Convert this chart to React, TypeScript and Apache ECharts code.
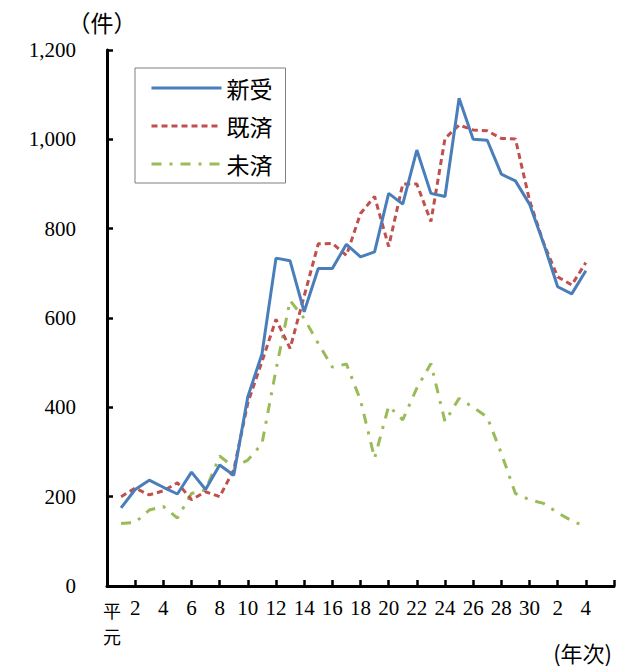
import React, { useEffect, useRef } from "react";
import * as echarts from "echarts";

// 年次: 平成元年〜令和4年
const years = [
  "平元", "2", "3", "4", "5", "6", "7", "8", "9", "10",
  "11", "12", "13", "14", "15", "16", "17", "18", "19", "20",
  "21", "22", "23", "24", "25", "26", "27", "28", "29", "30",
  "元", "2", "3", "4",
];

// 新受
const shinju = [
  175, 216, 237, 221, 206, 255, 216, 271, 248, 424,
  519, 734, 728, 614, 711, 711, 765, 737, 748, 879,
  855, 976, 879, 872, 1092, 1000, 998, 922, 907, 855,
  767, 670, 654, 706,
];

// 既済
const kisai = [
  200, 219, 204, 213, 231, 193, 211, 200, 260, 410,
  502, 597, 532, 649, 766, 767, 740, 834, 872, 760,
  900, 900, 816, 1002, 1032, 1021, 1019, 1002, 1001, 864,
  768, 692, 674, 724,
];

// 未済
const misai = [
  140, 142, 170, 178, 152, 207, 215, 291, 266, 282,
  318, 484, 639, 599, 543, 490, 497, 416, 286, 403,
  372, 443, 498, 368, 420, 400, 378, 297, 207, 193,
  185, 164, 146, 133,
];

const seriesNames = ["新受", "既済", "未済"];
const seriesColors = ["#4A7EBB", "#C0504D", "#9BBB59"];

const yMin = 0;
const yMax = 1200;
const yStep = 200;

const SERIF = "'Liberation Serif', 'Times New Roman', serif";
const CJK = "'Noto Sans CJK JP', sans-serif";

export default function App() {
  const ref = useRef<HTMLDivElement>(null);

  useEffect(() => {
    if (!ref.current) return;
    const chart = echarts.init(ref.current, undefined, { renderer: "svg" });

    // one empty slot before, two after (axis runs past the last year)
    const cats: any[] = [
      "",
      ...years.map((y, i) =>
        i === 0
          ? {
              value: "平\n元",
              textStyle: {
                align: "right",
                fontFamily: CJK,
                fontSize: 18,
                lineHeight: 26,
              },
            }
          : y
      ),
      " ",
      "  ",
    ];
    const pad = (arr: number[]) => [null, ...arr, null, null];

    const dashes: any[] = ["solid", [6, 4], [10, 8, 3, 8]];
    const datas = [shinju, kisai, misai];

    const series = seriesNames.map((name, i) => ({
      name,
      type: "line",
      data: pad(datas[i]),
      symbol: "none",
      smooth: false,
      lineStyle: { color: seriesColors[i], width: 3, type: dashes[i], cap: "butt" },
      itemStyle: { color: seriesColors[i] },
      z: 3 - i,
    }));

    const option: any = {
      animation: false,
      backgroundColor: "#fff",
      grid: {
        left: 107,
        right: 6,
        top: 50,
        bottom: 82,
        containLabel: false,
        outerBoundsMode: "none",
      },
      legend: {
        orient: "vertical",
        left: 135,
        top: 68,
        padding: [8, 13, 7, 15],
        itemGap: 14,
        itemWidth: 70,
        itemHeight: 20,
        borderColor: "#7f7f7f",
        borderWidth: 1,
        backgroundColor: "#fff",
        itemStyle: { opacity: 0, borderWidth: 0 },
        textStyle: { fontSize: 23, fontFamily: CJK, color: "#000", lineHeight: 24 },
        data: seriesNames.map((n, i) => ({
          name: n,
          itemStyle: { opacity: 0, borderWidth: 0 },
          lineStyle: { color: seriesColors[i], width: 3, type: dashes[i] },
        })),
      },
      xAxis: {
        type: "category",
        data: cats,
        boundaryGap: false,
        axisLine: { show: true, lineStyle: { color: "#000", width: 3 } },
        axisTick: {
          show: true,
          inside: true,
          length: 6,
          interval: 1,
          lineStyle: { color: "#000", width: 2.5 },
        },
        axisLabel: {
          interval: (idx: number) => idx === 1 || (idx % 2 === 0 && idx >= 2 && idx <= 34),
          showMinLabel: true,
          showMaxLabel: true,
          hideOverlap: false,
          margin: 11,
          color: "#000",
          fontFamily: SERIF,
          fontSize: 21,
        },
        splitLine: { show: false },
      },
      yAxis: {
        type: "value",
        min: yMin,
        max: yMax,
        interval: yStep,
        axisLine: { show: true, lineStyle: { color: "#000", width: 3 } },
        axisTick: { show: true, inside: true, length: 6, lineStyle: { color: "#000", width: 2.5 } },
        axisLabel: {
          margin: 31,
          color: "#000",
          fontFamily: SERIF,
          fontSize: 21,
          formatter: (v: number) => v.toLocaleString("en-US"),
        },
        splitLine: { show: false },
      },
      graphic: [
        {
          type: "text",
          x: 102,
          y: 22,
          style: {
            text: "（件）",
            font: `23px ${CJK}`,
            fill: "#000",
            textAlign: "center",
            textVerticalAlign: "middle",
          },
        },
        {
          type: "text",
          x: 612,
          y: 652,
          style: {
            text: "(年次)",
            font: `22px ${CJK}`,
            fill: "#000",
            textAlign: "right",
            textVerticalAlign: "middle",
          },
        },
      ],
      series,
    };

    chart.setOption(option);
    return () => chart.dispose();
  }, []);

  return (
    <div
      ref={ref}
      style={{ position: "fixed", left: 0, top: 0, width: 620, height: 668, background: "#fff" }}
    />
  );
}
